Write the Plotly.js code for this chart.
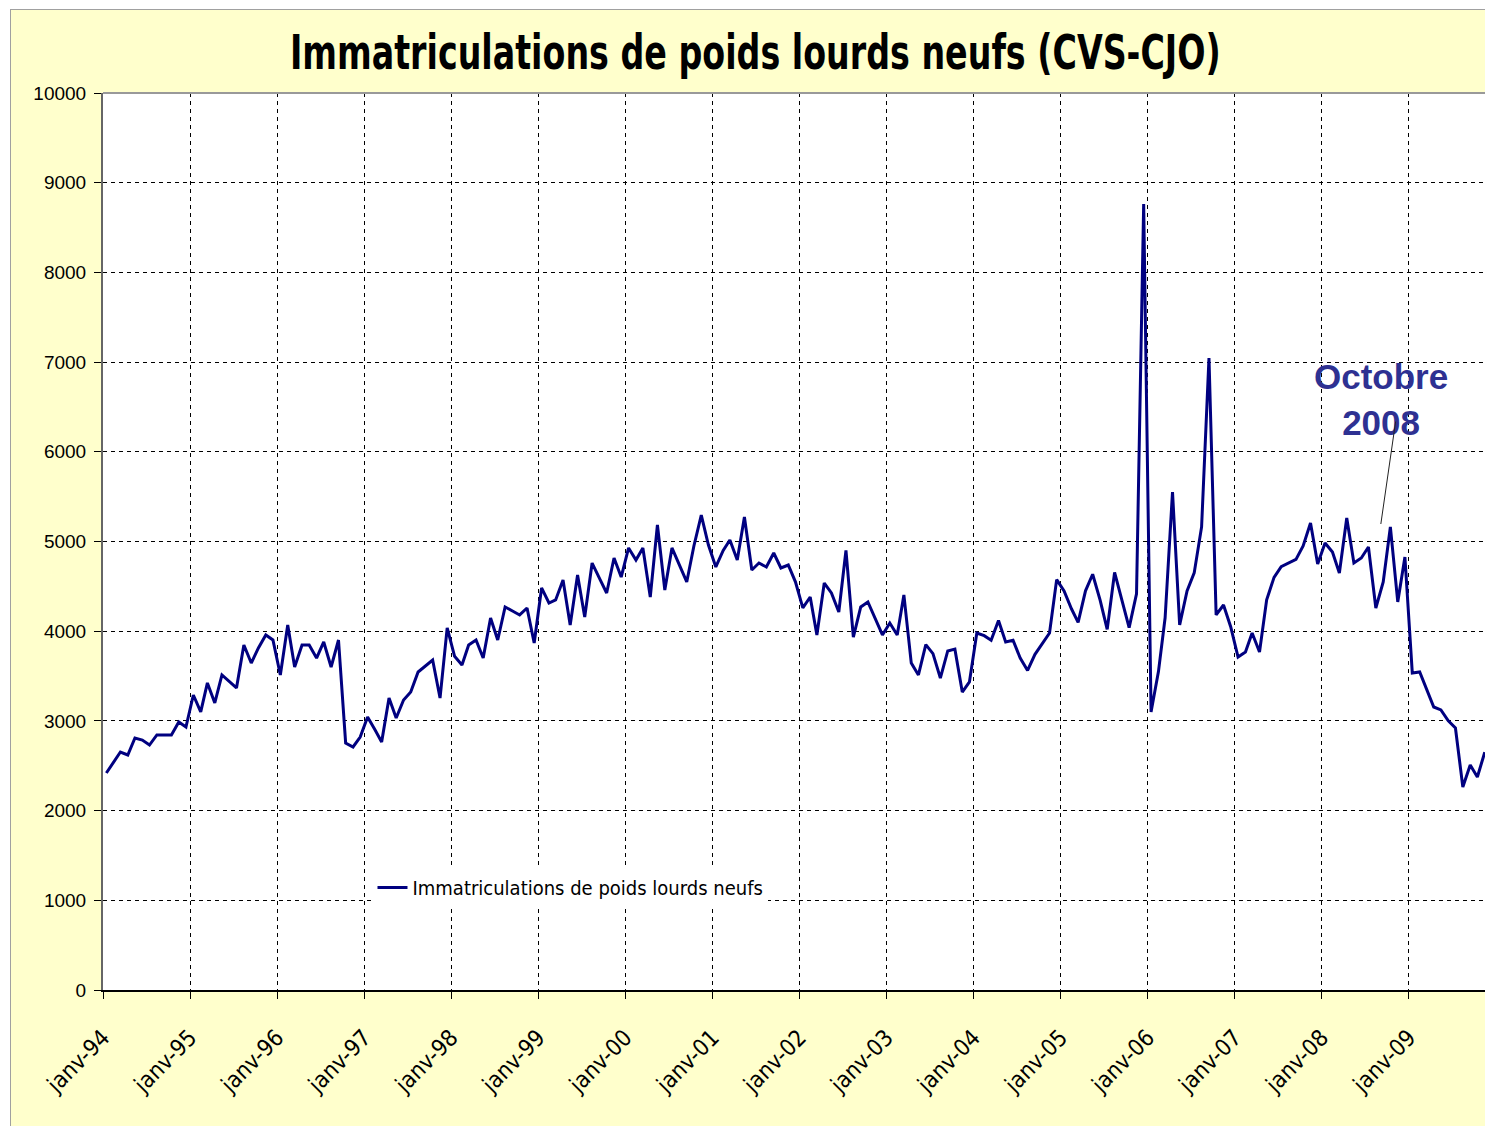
<!DOCTYPE html>
<html><head><meta charset="utf-8">
<script src="https://cdn.plot.ly/plotly-3.0.1.min.js"></script>
<style>
html,body{margin:0;padding:0;background:#fff;width:1485px;height:1126px;overflow:hidden}
#frame{position:absolute;left:10px;top:9px;width:1475px;height:1117px;box-sizing:border-box;border-top:1px solid #a0a0a0;border-left:1px solid #a0a0a0;background:#FFFFCC}
#chart{width:1474px;height:1116px}
</style></head><body><div id="frame"><div id="chart"></div></div>
<script>
// Monthly values (registrations of new heavy trucks, seasonally adjusted)
const v1994 = [2419, 2540, 2653, 2620, 2809, 2787, 2731, 2843, 2843, 2843, 2988, 2932];
const v1995 = [3289, 3100, 3423, 3200, 3512, 3440, 3367, 3846, 3645, 3813, 3958, 3902];
const v1996 = [3512, 4069, 3601, 3846, 3846, 3701, 3880, 3601, 3902, 2754, 2709, 2820];
const v1997 = [3043, 2900, 2765, 3255, 3032, 3233, 3322, 3545, 3610, 3679, 3255, 4036];
const v1998 = [3720, 3623, 3846, 3902, 3701, 4147, 3902, 4270, 4225, 4181, 4259, 3868];
const v1999 = [4482, 4314, 4348, 4571, 4069, 4627, 4158, 4760, 4590, 4426, 4816, 4604];
const v2000 = [4928, 4794, 4928, 4381, 5184, 4459, 4928, 4740, 4549, 4950, 5295, 4960];
const v2001 = [4716, 4900, 5017, 4794, 5273, 4682, 4760, 4716, 4872, 4705, 4738, 4550];
const v2002 = [4260, 4381, 3958, 4537, 4426, 4214, 4900, 3935, 4270, 4326, 4130, 3958];
const v2003 = [4091, 3958, 4404, 3645, 3512, 3850, 3750, 3478, 3780, 3800, 3322, 3434];
const v2004 = [3980, 3950, 3900, 4119, 3880, 3900, 3700, 3563, 3742, 3860, 3980, 4575];
const v2005 = [4450, 4250, 4099, 4450, 4635, 4350, 4020, 4655, 4350, 4040, 4417, 8762];
const v2006 = [3100, 3550, 4150, 5552, 4069, 4450, 4650, 5162, 7046, 4181, 4292, 4050];
const v2007 = [3712, 3768, 3980, 3768, 4350, 4600, 4720, 4760, 4800, 4950, 5206, 4750];
const v2008 = [4983, 4883, 4649, 5262, 4760, 4816, 4939, 4259, 4549, 5162, 4326, 4827];
const v2009 = [3534, 3545, 3350, 3155, 3122, 3000, 2921, 2263, 2508, 2375, 2650];

const years = [1994,1995,1996,1997,1998,1999,2000,2001,2002,2003,2004,2005,2006,2007,2008,2009];
const seriesByYear = [v1994,v1995,v1996,v1997,v1998,v1999,v2000,v2001,v2002,v2003,v2004,v2005,v2006,v2007,v2008,v2009];

const tickDates = ['1994-01-01','1995-01-01','1996-01-01','1997-01-01','1998-01-01','1999-01-01','2000-01-01','2001-01-01','2002-01-01','2003-01-01','2004-01-01','2005-01-01','2006-01-01','2007-01-01','2008-01-01','2009-01-01'];
const tickLabels = ['janv-94','janv-95','janv-96','janv-97','janv-98','janv-99','janv-00','janv-01','janv-02','janv-03','janv-04','janv-05','janv-06','janv-07','janv-08','janv-09'];
const yTicks = [0,1000,2000,3000,4000,5000,6000,7000,8000,9000,10000];
const yTickLabels = ['0','1000','2000','3000','4000','5000','6000','7000','8000','9000','10000'];

const titleText = 'Immatriculations de poids lourds neufs (CVS-CJO)';
const seriesName = 'Immatriculations de poids lourds neufs';
const noteText = 'Octobre<br>2008';

const xs = [], ys = [];
years.forEach((yr, i) => {
  seriesByYear[i].forEach((v, m) => {
    xs.push(yr + '-' + String(m + 1).padStart(2, '0') + '-15');
    ys.push(v);
  });
});

const narrow = '"DejaVu Sans Condensed", "Liberation Sans Narrow", Arial, sans-serif';

const trace = {
  x: xs, y: ys, type: 'scatter', mode: 'lines', name: seriesName,
  line: {color: '#000080', width: 3},
  showlegend: true
};

const layout = {
  width: 1474, height: 1116,
  paper_bgcolor: '#FFFFCC', plot_bgcolor: '#FFFFFF',
  margin: {l: 92, r: 0, t: 83, b: 136},
  title: {text: '<b>' + titleText + '</b>', font: {family: narrow, size: 37, color: '#000'},
          x: 0.505, xanchor: 'center', y: 0.962, yanchor: 'middle'},
  xaxis: {
    type: 'date', range: ['1994-01-01', '2009-11-16'],
    tickmode: 'array', tickvals: tickDates, ticktext: tickLabels,
    tickangle: -45, ticks: 'outside', ticklen: 7, tickcolor: '#000', tickwidth: 1,
    showgrid: true, gridcolor: '#000', gridwidth: 1, griddash: '4px,4px',
    showline: true, linecolor: '#000', linewidth: 2,
    zeroline: false, ticklabelstandoff: 16,
    tickfont: {family: narrow, size: 23, color: '#000'}
  },
  yaxis: {
    range: [0, 10000], tickmode: 'array', tickvals: yTicks, ticktext: yTickLabels,
    ticks: 'outside', ticklen: 7, tickcolor: '#000', tickwidth: 1,
    showgrid: true, gridcolor: '#000', gridwidth: 1, griddash: '4px,4px',
    showline: true, linecolor: '#666', linewidth: 2,
    zeroline: false, ticklabelstandoff: 4,
    tickfont: {family: 'Arial, "Liberation Sans", sans-serif', size: 19, color: '#000'}
  },
  legend: {
    x: 0.195, y: 0.136, xanchor: 'left', yanchor: 'top',
    bgcolor: '#FFFFFF', borderwidth: 0,
    font: {family: narrow, size: 20, color: '#000'}
  },
  shapes: [
    {type: 'line', xref: 'paper', yref: 'paper', x0: 0, x1: 1, y0: 1, y1: 1,
     line: {color: '#999', width: 2}}
  ],
  annotations: [
    {x: '2008-09-05', y: 6580, xref: 'x', yref: 'y', text: '<b>' + noteText + '</b>',
     showarrow: false, xanchor: 'center', yanchor: 'middle',
     font: {family: '"Liberation Sans", Arial, sans-serif', size: 35, color: '#2E3192'}},
    {x: '2008-09-05', y: 5195, xref: 'x', yref: 'y', text: '', showarrow: true,
     arrowhead: 0, arrowwidth: 1, arrowcolor: '#222', ax: 15, ay: -104, standoff: 0}
  ]
};

Plotly.newPlot('chart', [trace], layout, {displayModeBar: false, staticPlot: true}).then(() => {
  // Stretch the title vertically to mimic the tall condensed face of the original
  const t = document.querySelector('.gtitle');
  if (t) {
    const bb = t.getBBox();
    const cy = bb.y + bb.height / 2;
    t.setAttribute('transform', 'translate(0,' + cy + ') scale(1,1.3) translate(0,' + (-cy) + ')');
  }
});
</script></body></html>
